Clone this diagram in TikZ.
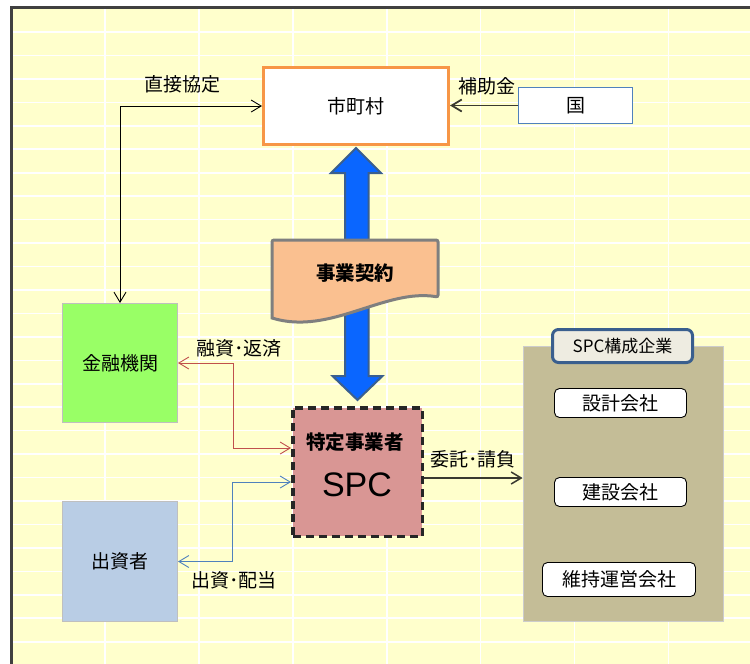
\documentclass[tikz,border=0pt]{standalone}
\usepackage{fontspec}
\setmainfont{Noto Sans CJK JP}
\newfontfamily\arialfont{Liberation Sans}
\usetikzlibrary{arrows.meta,calc}
\definecolor{bgyellow}{HTML}{FFFFCC}
\definecolor{frame}{HTML}{404040}
\definecolor{cityorange}{HTML}{F79646}
\definecolor{kuniblue}{HTML}{4F81BD}
\definecolor{kingreen}{HTML}{99FF66}
\definecolor{shublue}{HTML}{B9CDE5}
\definecolor{spcpink}{HTML}{D99694}
\definecolor{docpeach}{HTML}{FAC090}
\definecolor{docgray}{HTML}{7F7F7F}
\definecolor{arrowblue}{HTML}{0A66FF}
\definecolor{arrowedge}{HTML}{3A5F8E}
\definecolor{panelbeige}{HTML}{C4BD97}
\definecolor{tagfill}{HTML}{EEECE1}
\definecolor{redline}{HTML}{C0504D}
\definecolor{blueline}{HTML}{4F81BD}
\definecolor{darkline}{HTML}{3A3A30}
\tikzset{
  jfont/.style={font=\fontsize{19}{21}\selectfont},
  gridline/.style={draw=white, line width=1.6pt},
  plainbox/.style={draw, jfont, inner sep=0pt, align=center},
  lbl/.style={jfont, inner sep=0pt},
  boldlbl/.style={font=\fontsize{19.5}{21}\selectfont\bfseries, inner sep=0pt},
  conn/.style={line width=0.9pt},
  company/.style={draw=black, line width=0.9pt, fill=white, rounded corners=5pt, jfont, inner sep=0pt},
}
\begin{document}
\begin{tikzpicture}[x=1pt,y=-1pt,>={Straight Barb[length=10pt,width=12pt]}]
\useasboundingbox (0,0) rectangle (750,664);
\fill[white] (0,0) rectangle (750,664);
\fill[bgyellow] (10,6) rectangle (750,664);
% grid
\foreach \i in {0,...,6} \draw[gridline] ({105+93.9*\i},9) -- ({105+93.9*\i},664);
\foreach \j in {0,...,27} \draw[gridline] (13,{32+23.45*\j}) -- (750,{32+23.45*\j});
% frame
\draw[frame, line width=3.3pt] (11.7,664) -- (11.7,7.7) -- (750,7.7);

% nodes
\node[plainbox, draw=cityorange, line width=3pt, fill=white, minimum width=185pt, minimum height=77pt] (city) at (356,106) {市町村};
\node[plainbox, draw=kuniblue, line width=1pt, fill=white, minimum width=114pt, minimum height=36pt] (kuni) at (575.5,105.5) {国};
\node[plainbox, draw=black!25, line width=1pt, fill=kingreen, minimum width=115pt, minimum height=119pt] (kinyu) at (120,363) {金融機関};
\node[plainbox, draw=black!25, line width=1pt, fill=shublue, minimum width=115pt, minimum height=120pt] (shusshi) at (120,561.5) {出資者};
\node[draw=black!85, line width=3.5pt, dash pattern=on 8pt off 5pt, fill=spcpink, minimum width=129.5pt, minimum height=128.5pt, inner sep=0pt] (spc) at (357.5,472) {};
\node[boldlbl] (spctitle) at (355,442) {特定事業者};
\node[font=\arialfont\fontsize{34}{36}\selectfont, inner sep=0pt] (spcname) at (357,485) {SPC};

% panel of SPC companies
\node[draw=black!20, line width=0.8pt, fill=panelbeige, minimum width=200pt, minimum height=275pt, inner sep=0pt] (panel) at (623,483.5) {};
\node[draw=arrowedge, line width=3pt, fill=tagfill, rounded corners=6pt, minimum width=140pt, minimum height=33pt, inner sep=0pt, font=\fontsize{17}{19}\selectfont] (tag) at (622.5,346) {SPC構成企業};
\node[company, minimum width=132pt, minimum height=29pt] (sekkei) at (620.5,403) {設計会社};
\node[company, minimum width=132pt, minimum height=29pt] (kensetsu) at (620.5,492) {建設会社};
\node[company, minimum width=153pt, minimum height=34pt] (iji) at (619,579.5) {維持運営会社};

% blue double arrow between city and SPC
\coordinate (ta) at ($(city.south)+(0,2)$);
\coordinate (tb) at ($(spc.north)+(0,-6)$);
\draw[fill=arrowblue, draw=arrowedge, line width=2pt, line join=miter]
  (ta) -- ++(25,25) -- ++(-12.5,0) |- ($(tb)+(12.5,-24)$) -- ++(12.5,0) -- (tb)
  -- ++(-25,-24) -- ++(12.5,0) |- ($(ta)+(-25,25)$) -- cycle;

% document shape 事業契約
\draw[fill=docpeach, draw=docgray, line width=3pt, rounded corners=2pt]
  (272,240) -- (438,240) -- (438,297) [sharp corners] .. controls (385,288) and (330,336) .. (272,318) [rounded corners=2pt] -- cycle;
\node[boldlbl] (doc) at (355,273) {事業契約};

% connectors
\draw[conn, <->] (city.west) -| (kinyu.north);
\draw[darkline, line width=1.8pt, ->] (kuni.west) -- (city.east |- kuni.west);
\draw[conn, redline, <->] (kinyu.east) -- ++(55,0) |- ($(spc.west)+(0,-24)$);
\draw[conn, blueline, <->] (shusshi.east) -- ++(54,0) |- ($(spc.west)+(0,10)$);
\draw[darkline, line width=1.5pt, ->] ($(spc.east)+(0,6)$) -- (panel.west |- {$(spc.east)+(0,6)$});

% labels
\node[lbl] (l1) at (182,84) {直接協定};
\node[lbl] (l2) at (487,86) {補助金};
\node[lbl] (l3) at (239,348) {融資･返済};
\node[lbl] (l4) at (473,459) {委託･請負};
\node[lbl] (l5) at (234,580) {出資･配当};
\end{tikzpicture}
\end{document}
